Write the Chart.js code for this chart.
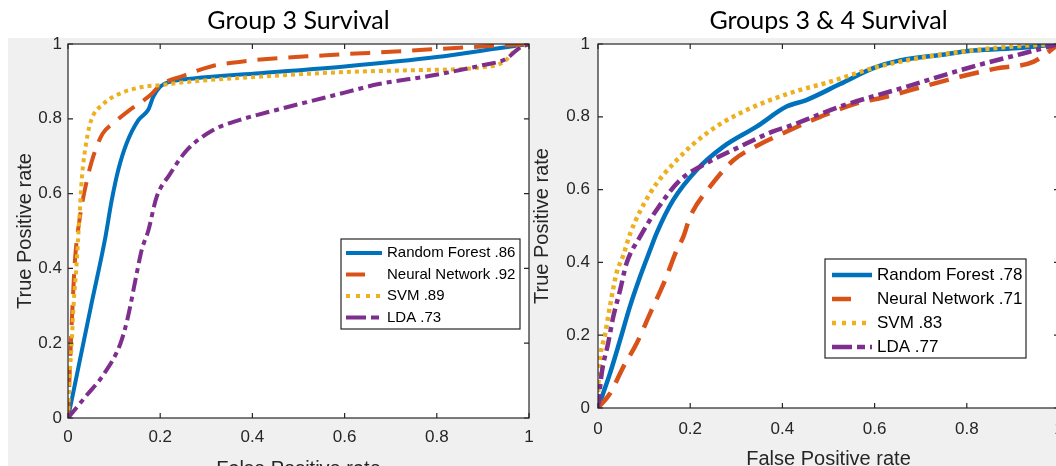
<!DOCTYPE html>
<html><head><meta charset="utf-8">
<script src="https://cdn.jsdelivr.net/npm/chart.js@4.4.1/dist/chart.umd.min.js"></script>
<style>
html,body{margin:0;padding:0;width:1056px;height:466px;overflow:hidden;background:#fff;}
#bg{position:absolute;left:8px;top:38px;width:1048px;height:428px;background:#f0f0f0;}
#c1{position:absolute;left:0;top:0;}
#c2{position:absolute;left:520px;top:0;}
</style></head><body>
<div id="bg"></div>
<canvas id="c1" width="545" height="490"></canvas>
<canvas id="c2" width="560" height="490"></canvas>
<script>
// ---------- data ----------
const seriesNames = ['Random Forest', 'Neural Network', 'SVM', 'LDA'];
const g3Auc  = ['.86', '.92', '.89', '.73'];
const g34Auc = ['.78', '.71', '.83', '.77'];
const axisTicks = [0, 0.2, 0.4, 0.6, 0.8, 1];
const panelTitles = ['Group 3 Survival', 'Groups 3 & 4 Survival'];
const xTitle = 'False Positive rate';
const yTitle = 'True Positive rate';

// Group 3
const g3RfFpr  = [0, 0.02, 0.05, 0.08, 0.095, 0.109, 0.127, 0.153, 0.174, 0.185, 0.2, 0.221, 0.272, 0.416, 0.6, 0.8, 0.93, 1];
const g3RfTpr  = [0, 0.12, 0.3, 0.476, 0.583, 0.663, 0.734, 0.797, 0.824, 0.859, 0.886, 0.899, 0.908, 0.922, 0.94, 0.965, 0.988, 1];
const g3NnFpr  = [0, 0.003, 0.008, 0.015, 0.025, 0.04, 0.055, 0.075, 0.1, 0.13, 0.18, 0.2, 0.25, 0.31, 0.39, 0.56, 0.71, 0.85, 1];
const g3NnTpr  = [0, 0.1, 0.25, 0.42, 0.53, 0.63, 0.7, 0.76, 0.79, 0.82, 0.865, 0.89, 0.915, 0.94, 0.955, 0.97, 0.98, 0.99, 1];
const g3SvmFpr = [0, 0.003, 0.008, 0.012, 0.018, 0.022, 0.026, 0.03, 0.04, 0.05, 0.077, 0.11, 0.16, 0.2, 0.27, 0.42, 0.6, 0.75, 0.9, 0.945, 0.972, 1];
const g3SvmTpr = [0, 0.1, 0.2, 0.3, 0.4, 0.48, 0.56, 0.64, 0.74, 0.795, 0.84, 0.866, 0.885, 0.89, 0.9, 0.913, 0.925, 0.93, 0.938, 0.952, 0.985, 1];
const g3LdaFpr = [0, 0.04, 0.077, 0.114, 0.13, 0.148, 0.16, 0.174, 0.192, 0.22, 0.257, 0.315, 0.373, 0.45, 0.6, 0.674, 0.786, 0.898, 0.95, 0.98, 1];
const g3LdaTpr = [0, 0.06, 0.116, 0.2, 0.27, 0.38, 0.45, 0.5, 0.59, 0.65, 0.715, 0.77, 0.797, 0.823, 0.87, 0.893, 0.915, 0.943, 0.96, 0.99, 1];

// Groups 3 & 4
const g34RfFpr  = [0, 0.026, 0.048, 0.069, 0.091, 0.113, 0.127, 0.163, 0.214, 0.272, 0.344, 0.409, 0.452, 0.525, 0.6, 0.655, 0.742, 0.813, 0.92, 1];
const g34RfTpr  = [0, 0.095, 0.187, 0.278, 0.36, 0.434, 0.48, 0.571, 0.654, 0.718, 0.773, 0.828, 0.846, 0.89, 0.935, 0.955, 0.97, 0.982, 0.99, 1];
const g34NnFpr  = [0, 0.026, 0.055, 0.084, 0.113, 0.145, 0.171, 0.185, 0.2, 0.243, 0.293, 0.344, 0.405, 0.482, 0.561, 0.626, 0.705, 0.785, 0.865, 0.944, 1];
const g34NnTpr  = [0, 0.04, 0.113, 0.178, 0.26, 0.35, 0.434, 0.47, 0.526, 0.608, 0.68, 0.72, 0.757, 0.8, 0.837, 0.855, 0.883, 0.91, 0.933, 0.951, 1];
const g34SvmFpr = [0, 0.001, 0.004, 0.015, 0.026, 0.04, 0.055, 0.07, 0.113, 0.17, 0.236, 0.308, 0.416, 0.5, 0.6, 0.7, 0.81, 0.92, 1];
const g34SvmTpr = [0, 0.07, 0.13, 0.2, 0.28, 0.37, 0.42, 0.48, 0.59, 0.68, 0.755, 0.81, 0.865, 0.895, 0.935, 0.962, 0.982, 0.995, 1];
const g34LdaFpr = [0, 0.008, 0.022, 0.033, 0.048, 0.062, 0.091, 0.127, 0.178, 0.236, 0.308, 0.38, 0.416, 0.525, 0.67, 0.813, 0.922, 1];
const g34LdaTpr = [0, 0.095, 0.178, 0.25, 0.324, 0.398, 0.47, 0.544, 0.626, 0.673, 0.718, 0.76, 0.775, 0.828, 0.883, 0.938, 0.974, 1];

// ---------- styles ----------
const colors = ['#0072BD', '#D95319', '#EDB120', '#7E2F8E'];
const dashes = [[], [20, 11], [4, 4], [14, 5, 5, 5]];
const sampleDashes = [[], [19, 30], [4, 6], [20, 5, 8, 5]];
const tickFont = {family: "'Liberation Sans', Arial, sans-serif", size: 17};
const labelFont = {family: "'Liberation Sans', Arial, sans-serif", size: 20};
const axisColor = '#262626';

const zip = (xs, ys) => xs.map((v, i) => ({x: v, y: ys[i]}));

function buildDatasets(pairs, aucs, lw) {
  return pairs.map((p, i) => ({
    label: seriesNames[i] + ' ' + aucs[i],
    data: zip(p[0], p[1]),
    borderColor: colors[i],
    backgroundColor: colors[i],
    borderWidth: lw,
    borderDash: dashes[i],
    sampleDash: sampleDashes[i],
    pointRadius: 0,
    fill: false,
    cubicInterpolationMode: 'monotone',
    order: 4 - i
  }));
}

const matlabAxes = {
  id: 'matlabAxes',
  beforeDatasetsDraw(chart) {
    const {ctx, chartArea: a} = chart;
    ctx.save();
    ctx.fillStyle = '#ffffff';
    ctx.fillRect(a.left, a.top, a.right - a.left, a.bottom - a.top);
    ctx.restore();
  },
  afterDatasetsDraw(chart, args, opts) {
    const {ctx, chartArea: a, scales} = chart;
    const xs = scales.x, ys = scales.y;
    ctx.save();
    ctx.strokeStyle = axisColor;
    ctx.lineWidth = 1.2;
    ctx.setLineDash([]);
    ctx.strokeRect(a.left, a.top, a.right - a.left, a.bottom - a.top);
    const tl = 5;
    ctx.beginPath();
    xs.ticks.forEach(t => {
      const px = xs.getPixelForValue(t.value);
      ctx.moveTo(px, a.bottom); ctx.lineTo(px, a.bottom - tl);
      ctx.moveTo(px, a.top); ctx.lineTo(px, a.top + tl);
    });
    ys.ticks.forEach(t => {
      const py = ys.getPixelForValue(t.value);
      ctx.moveTo(a.left, py); ctx.lineTo(a.left + tl, py);
      ctx.moveTo(a.right, py); ctx.lineTo(a.right - tl, py);
    });
    ctx.stroke();

    // legend box
    const L = opts.legend;
    ctx.fillStyle = '#ffffff';
    ctx.fillRect(L.left, L.top, L.width, L.height);
    ctx.strokeStyle = axisColor;
    ctx.lineWidth = 1.2;
    ctx.strokeRect(L.left, L.top, L.width, L.height);
    chart.data.datasets.forEach((ds, i) => {
      const cy = L.firstRow + i * L.rowGap;
      ctx.beginPath();
      ctx.setLineDash(ds.sampleDash || []);
      ctx.strokeStyle = ds.borderColor;
      ctx.lineWidth = ds.borderWidth;
      ctx.moveTo(L.sampleX0, cy);
      ctx.lineTo(L.sampleX1, cy);
      ctx.stroke();
      ctx.setLineDash([]);
      ctx.fillStyle = '#000000';
      ctx.font = L.fontSize + "px 'Liberation Sans', Arial, sans-serif";
      ctx.textBaseline = 'middle';
      ctx.textAlign = 'left';
      ctx.fillText(ds.label, L.textX, cy);
    });
    ctx.restore();
  }
};

function makeChart(id, title, datasets, g) {
  return new Chart(document.getElementById(id), {
    type: 'line',
    data: {datasets},
    plugins: [matlabAxes],
    options: {
      responsive: false,
      animation: false,
      devicePixelRatio: 1,
      layout: {padding: {left: 0, top: 0, right: g.padRight, bottom: 0}},
      plugins: {
        legend: {display: false},
        tooltip: {enabled: false},
        title: {
          display: true, text: title, fullSize: false, color: '#000',
          font: {family: 'Lato, sans-serif', size: 25, weight: 'normal', lineHeight: 1.2},
          padding: {top: 6, bottom: 8}
        },
        matlabAxes: {legend: g.legend}
      },
      scales: {
        x: {
          type: 'linear', min: 0, max: 1,
          afterBuildTicks: s => { s.ticks = axisTicks.map(v => ({value: v})); },
          afterFit: s => { s.height = g.xHeight; },
          grid: {display: false, drawTicks: false},
          border: {display: false},
          ticks: {color: axisColor, font: tickFont, padding: g.xTickPad, maxRotation: 0, autoSkip: false,
                  callback: v => String(+Number(v).toFixed(1))},
          title: {display: true, text: xTitle, color: axisColor, font: labelFont, padding: {top: 0, bottom: g.xTitlePad}}
        },
        y: {
          type: 'linear', min: 0, max: 1,
          afterBuildTicks: s => { s.ticks = axisTicks.map(v => ({value: v})); },
          afterFit: s => { s.width = g.yWidth; },
          grid: {display: false, drawTicks: false},
          border: {display: false},
          ticks: {color: axisColor, font: tickFont, padding: g.yTickPad, autoSkip: false,
                  callback: v => String(+Number(v).toFixed(1))},
          title: {display: true, text: yTitle, color: axisColor, font: labelFont, padding: {top: g.yTitlePad, bottom: 0}}
        }
      }
    }
  });
}

makeChart('c1', panelTitles[0],
  buildDatasets([[g3RfFpr, g3RfTpr], [g3NnFpr, g3NnTpr], [g3SvmFpr, g3SvmTpr], [g3LdaFpr, g3LdaTpr]], g3Auc, 4),
  {padRight: 16, xHeight: 72, xTickPad: 9, xTitlePad: 9, yWidth: 68, yTickPad: 6, yTitlePad: 13,
   legend: {left: 341, top: 239, width: 179, height: 90, firstRow: 253, rowGap: 21.5, sampleX0: 346, sampleX1: 382, textX: 387, fontSize: 15}});

makeChart('c2', panelTitles[1],
  buildDatasets([[g34RfFpr, g34RfTpr], [g34NnFpr, g34NnTpr], [g34SvmFpr, g34SvmTpr], [g34LdaFpr, g34LdaTpr]], g34Auc, 4.5),
  {padRight: 21, xHeight: 82, xTickPad: 11, xTitlePad: 19, yWidth: 78, yTickPad: 8, yTitlePad: 10,
   legend: {left: 305, top: 259, width: 201, height: 99, firstRow: 275, rowGap: 24, sampleX0: 312, sampleX1: 352, textX: 357, fontSize: 17}});
</script>
</body></html>
